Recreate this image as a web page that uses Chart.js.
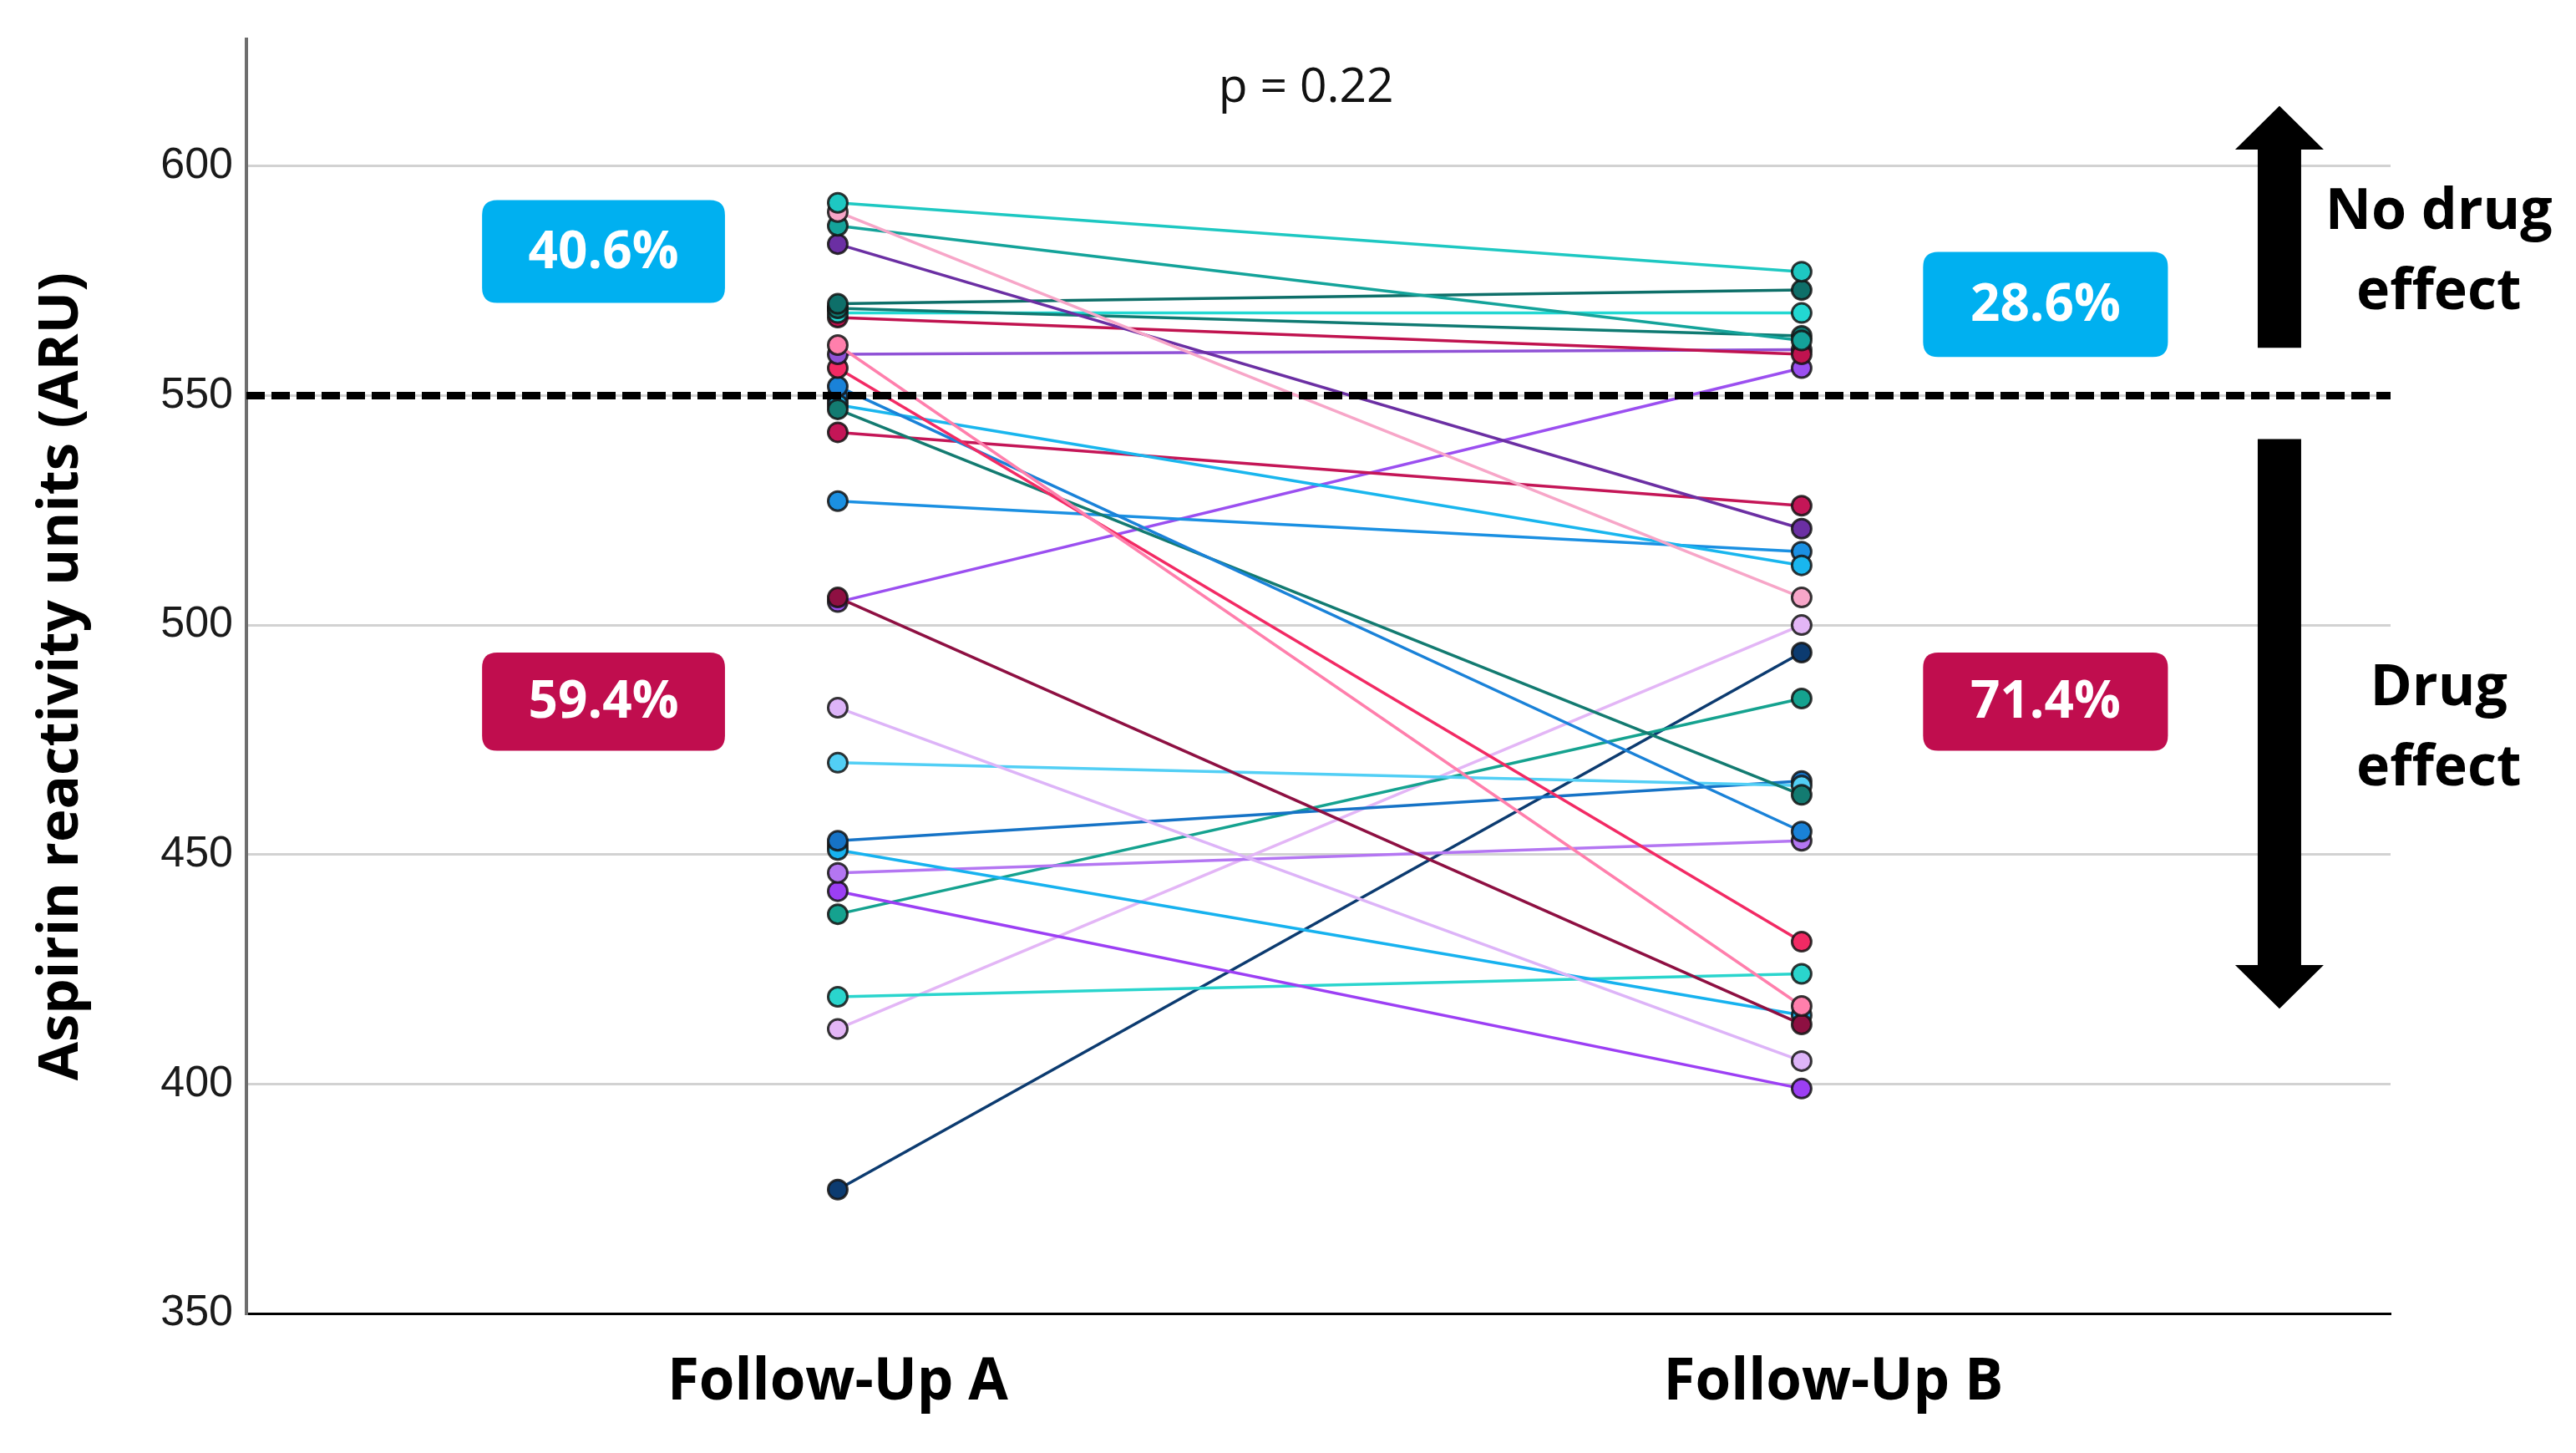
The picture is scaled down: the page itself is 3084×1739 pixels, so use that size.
<!DOCTYPE html>
<html>
<head>
<meta charset="utf-8">
<script src="https://cdn.jsdelivr.net/npm/chart.js@4.4.1/dist/chart.umd.min.js"></script>
<style>
  html, body { margin: 0; padding: 0; background: #fff; }
  #wrap { width: 3084px; height: 1739px; }
</style>
</head>
<body>
<div id="wrap"><canvas id="pairedChart"></canvas></div>
<script>
// Paired ARU values per patient (null = no follow-up B measurement)
const timepoints = ['Follow-Up A', 'Follow-Up B'];
const followUpA = [592, 590, 587, 583, 570, 569, 568, 567, 561, 559, 556, 552, 547, 548, 542, 527,
                   506, 505, 482, 470, 453, 451, 446, 442, 437, 419, 412, 377, 569, 550, 549, 452];
const followUpB = [577, 506, 562, 521, 573, 563, 568, 559, 417, 560, 431, 455, 463, 513, 526, 516,
                   413, 556, 405, 465, 466, 415, 453, 399, 484, 424, 500, 494, null, null, null, null];
const subjectColors = ['#1ec8c2', '#f7a6c8', '#14a39a', '#6b2fa3', '#0e6f69', '#0f7a72', '#22d8d2', '#c0134f',
                       '#ff7fac', '#9052d6', '#f22a64', '#1a82d8', '#137b71', '#19b6ee', '#c41657', '#1b90e2',
                       '#8e1042', '#9b4ff0', '#ddb4f8', '#52cff5', '#1673c6', '#17b2ef', '#b476f2', '#9c3ff4',
                       '#15a28f', '#2ad5cd', '#e3b6f6', '#0c3b70', '#c0134f', '#1a82d8', '#19b6ee', '#1673c6'];
const threshold = 550;
const yTicks = [350, 400, 450, 500, 550, 600];
const pValueText = 'p = 0.22';
const leftPercents = ['40.6%', '59.4%'];
const rightPercents = ['28.6%', '71.4%'];

const xMin = -0.6135, xMax = 1.611;
// the category labels sit slightly off the point columns in the original
const labelPositions = [0, 1.033];

const datasets = followUpA.map((a, i) => ({
    data: [{ x: 0, y: a }, { x: 1, y: followUpB[i] }],
    showLine: true,
    borderColor: subjectColors[i],
    borderWidth: 3.5,
    pointBackgroundColor: subjectColors[i],
    pointBorderColor: 'rgba(20,20,20,0.85)',
    pointBorderWidth: 3,
    pointRadius: 11.5,
    spanGaps: false
}));

// dashed cut-off line, drawn on top
datasets.unshift({
    data: [{ x: xMin, y: threshold }, { x: xMax, y: threshold }],
    showLine: true,
    borderColor: '#000',
    borderWidth: 9,
    borderDash: [22, 8],
    pointRadius: 0,
    order: -1
});

function roundRect(ctx, x, y, w, h, r) {
    ctx.beginPath();
    ctx.moveTo(x + r, y);
    ctx.lineTo(x + w - r, y);
    ctx.quadraticCurveTo(x + w, y, x + w, y + r);
    ctx.lineTo(x + w, y + h - r);
    ctx.quadraticCurveTo(x + w, y + h, x + w - r, y + h);
    ctx.lineTo(x + r, y + h);
    ctx.quadraticCurveTo(x, y + h, x, y + h - r);
    ctx.lineTo(x, y + r);
    ctx.quadraticCurveTo(x, y, x + r, y);
    ctx.closePath();
}

const annotations = {
    id: 'annotations',
    afterDatasetsDraw(chart) {
        const ctx = chart.ctx;
        const xs = chart.scales.x, ys = chart.scales.y;
        const px = v => xs.getPixelForValue(v);
        const py = v => ys.getPixelForValue(v);
        ctx.save();

        // p value
        ctx.fillStyle = '#111';
        ctx.font = '57px "Open Sans", sans-serif';
        ctx.textAlign = 'center';
        ctx.textBaseline = 'middle';
        ctx.fillText(pValueText, px(0.486), py(616.9));

        // percentage boxes
        const boxes = [
            { x0: -0.369, x1: -0.117, y0: 592.6, y1: 570.2, color: '#00b0f0', text: leftPercents[0] },
            { x0: -0.369, x1: -0.117, y0: 494.0, y1: 472.6, color: '#c00d4e', text: leftPercents[1] },
            { x0: 1.126, x1: 1.380, y0: 581.3, y1: 558.4, color: '#00b0f0', text: rightPercents[0] },
            { x0: 1.126, x1: 1.380, y0: 494.0, y1: 472.6, color: '#c00d4e', text: rightPercents[1] }
        ];
        ctx.font = 'bold 62px "Open Sans", sans-serif';
        boxes.forEach(b => {
            const x = px(b.x0), y = py(b.y0), w = px(b.x1) - x, h = py(b.y1) - y;
            ctx.fillStyle = b.color;
            roundRect(ctx, x, y, w, h, 18);
            ctx.fill();
            ctx.fillStyle = '#fff';
            ctx.fillText(b.text, x + w / 2, y + h / 2 + 2);
        });

        // arrows
        const ax = px(1.4957);
        const sw = 26, hw = 53;
        ctx.fillStyle = '#000';
        ctx.beginPath();
        ctx.moveTo(ax, py(613.1));
        ctx.lineTo(ax + hw, py(603.6));
        ctx.lineTo(ax + sw, py(603.6));
        ctx.lineTo(ax + sw, py(560.4));
        ctx.lineTo(ax - sw, py(560.4));
        ctx.lineTo(ax - sw, py(603.6));
        ctx.lineTo(ax - hw, py(603.6));
        ctx.closePath();
        ctx.fill();
        ctx.beginPath();
        ctx.moveTo(ax - sw, py(540.5));
        ctx.lineTo(ax + sw, py(540.5));
        ctx.lineTo(ax + sw, py(425.9));
        ctx.lineTo(ax + hw, py(425.9));
        ctx.lineTo(ax, py(416.4));
        ctx.lineTo(ax - hw, py(425.9));
        ctx.lineTo(ax - sw, py(425.9));
        ctx.closePath();
        ctx.fill();

        // side labels
        ctx.font = 'bold 68px "Open Sans", sans-serif';
        ctx.textBaseline = 'alphabetic';
        const tx = px(1.661);
        ctx.fillText('No drug', tx, py(586.4));
        ctx.fillText('effect', tx, py(568.8));
        ctx.fillText('Drug', tx, py(482.5));
        ctx.fillText('effect', tx, py(465.1));
        ctx.restore();
    }
};

new Chart(document.getElementById('pairedChart').getContext('2d'), {
    type: 'scatter',
    data: { datasets: datasets },
    options: {
        responsive: true,
        maintainAspectRatio: false,
        animation: false,
        layout: { padding: { top: 43, right: 222, bottom: 0, left: 0 } },
        plugins: {
            legend: { display: false },
            tooltip: { enabled: false }
        },
        scales: {
            x: {
                type: 'linear',
                min: xMin,
                max: xMax,
                afterBuildTicks: axis => { axis.ticks = labelPositions.map(v => ({ value: v })); },
                afterFit: axis => { axis.height = 167; },
                ticks: {
                    callback: v => timepoints[labelPositions.indexOf(v)],
                    color: '#000',
                    font: { family: '"Open Sans", sans-serif', size: 69, weight: 'bold' },
                    padding: 34,
                    autoSkip: false,
                    maxRotation: 0
                },
                grid: { display: false },
                border: { display: true, color: '#000', width: 3 }
            },
            y: {
                min: 350,
                max: 627.6,
                afterBuildTicks: axis => { axis.ticks = yTicks.map(v => ({ value: v })); },
                afterFit: axis => { axis.width = 295; },
                ticks: {
                    color: '#1a1a1a',
                    font: { family: '"Liberation Sans", Arial, sans-serif', size: 52 },
                    padding: 16
                },
                grid: {
                    color: ctx => ctx.tick && ctx.tick.value === 350 ? 'rgba(0,0,0,0)' : '#d2d2d2',
                    lineWidth: 3,
                    drawTicks: false
                },
                border: { display: true, color: '#6e6e6e', width: 4 },
                title: {
                    display: true,
                    text: 'Aspirin reactivity units (ARU)',
                    color: '#000',
                    font: { family: '"Liberation Sans Narrow", "Open Sans", sans-serif', size: 67, weight: 'bold' },
                    padding: { top: 34, bottom: 0 }
                }
            }
        }
    },
    plugins: [annotations]
});
</script>
</body>
</html>
